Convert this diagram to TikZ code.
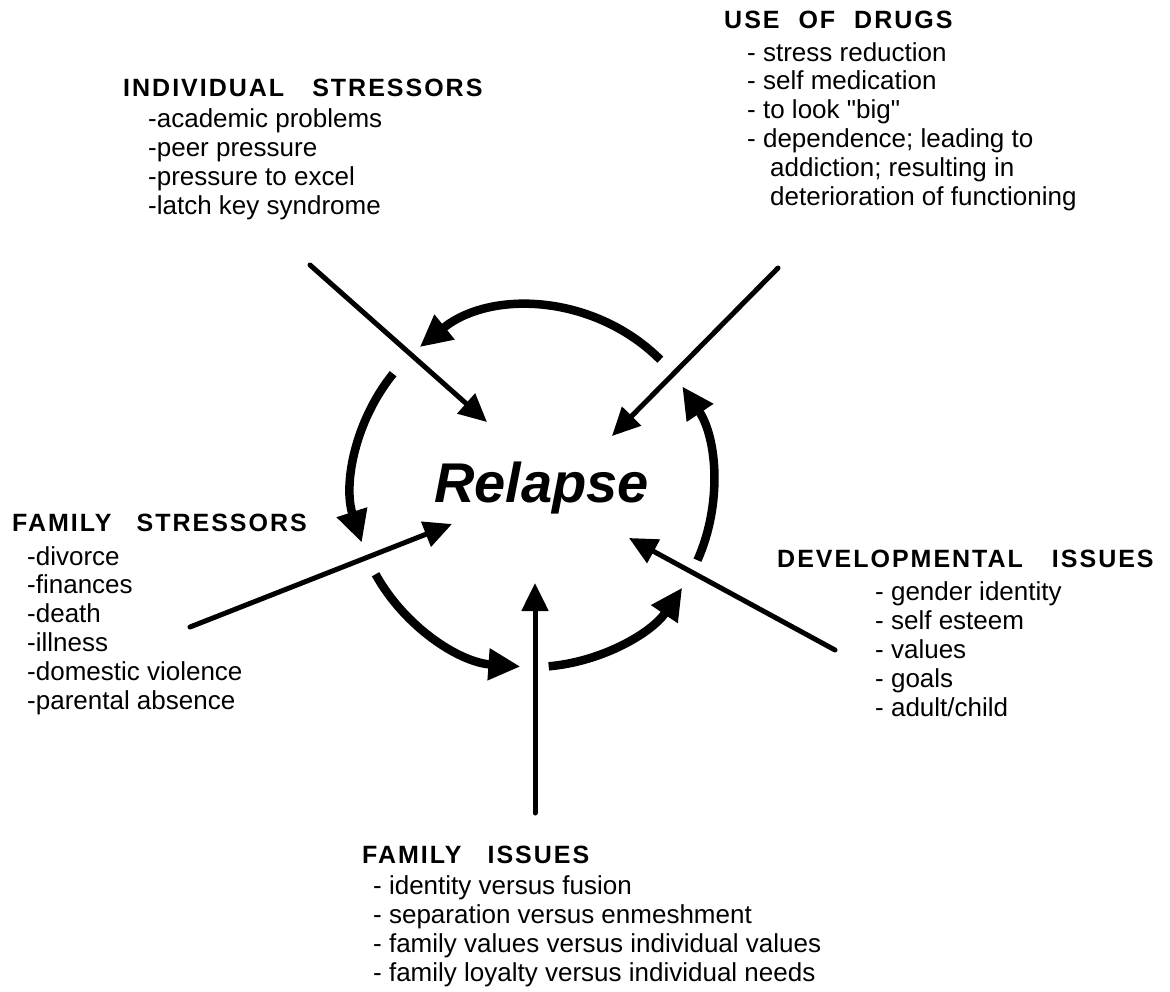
\documentclass[tikz,border=0pt]{standalone}
\usepackage{fontspec}
\setmainfont{Liberation Sans}
\newfontfamily\itemfont{Liberation Sans}
\newfontfamily\headfont[LetterSpace=8]{Liberation Sans}
\usetikzlibrary{arrows.meta}

\begin{document}
\begin{tikzpicture}
[every node/.style={inner sep=0pt},
 >={Triangle[length=28pt,width=26pt]},
 heading/.style={anchor=base west, font=\headfont\bfseries\fontsize{25pt}{28pt}\selectfont},
 items/.style={anchor=base west, align=left, font=\itemfont\fontsize{26pt}{28.8pt}\selectfont},
 spoke/.style={line width=5pt, line cap=round, ->},
 roundarrow/.style={line width=8.5pt, ->, >={Triangle[length=32pt,width=30pt]}}]
\useasboundingbox (0pt, 0pt) rectangle (1170pt, -991pt);
\node (relapse) [anchor=base west, font=\bfseries\itshape\fontsize{56pt}{60pt}\selectfont] at (434pt, -502pt) {Relapse};
% headings at their baselines, lists at the baseline of their last line
\node (indiv) [heading] at (123pt, -96pt) {INDIVIDUAL\hspace{28pt}STRESSORS};
\node (indivlist) [items] at (148pt, -214pt) {-academic problems\\-peer pressure\\-pressure to excel\\-latch key syndrome};
\node (drugs) [heading] at (724pt, -28pt) {USE\hspace{10pt} OF\hspace{10pt} DRUGS};
\node (drugslist) [items] at (747pt, -205pt) {- stress reduction\\- self medication\\- to look "big"\\- dependence; leading to\\\hspace{23pt}addiction; resulting in\\\hspace{23pt}deterioration of functioning};
\node (famstress) [heading] at (12pt, -531pt) {FAMILY\hspace{25pt}STRESSORS};
\node (famstresslist) [items] at (27pt, -709pt) {-divorce\\-finances\\-death\\-illness\\-domestic violence\\-parental absence};
\node (devel) [heading] at (777pt, -567pt) {DEVELOPMENTAL\hspace{29pt}ISSUES};
\node (devellist) [items] at (875pt, -716pt) {- gender identity\\- self esteem\\- values\\- goals\\- adult/child};
\node (famissues) [heading] at (362pt, -863pt) {FAMILY\hspace{26pt}ISSUES};
\node (famissueslist) [items] at (373pt, -981pt) {- identity versus fusion\\- separation versus enmeshment\\- family values versus individual values\\- family loyalty versus individual needs};
% spoke ends
\coordinate (c) at (533pt, -487pt);
\coordinate (indivtail) at (310pt, -265pt);
\coordinate (indivtip) at (487pt, -422pt);
\coordinate (drugstail) at (778pt, -268pt);
\coordinate (drugstip) at (612pt, -436pt);
\coordinate (famstresstail) at (190pt, -627pt);
\coordinate (famstresstip) at (452pt, -524pt);
\coordinate (famissuestail) at (535pt, -813pt);
\coordinate (famissuestip) at (535pt, -583pt);
\coordinate (develtail) at (835pt, -650pt);
\coordinate (develtip) at (629pt, -538pt);
\draw [spoke] (indivtail) to (indivtip);
\draw [spoke] (drugstail) to (drugstip);
\draw [spoke] (famstresstail) to (famstresstip);
\draw [spoke] (famissuestail) to (famissuestip);
\draw [spoke] (develtail) to (develtip);
% the cycle round Relapse
\draw [roundarrow] ([shift={(45:180pt)}]c) arc [start angle=45, end angle=129, radius=180pt];
\draw [roundarrow] ([shift={(141:180pt)}]c) arc [start angle=141, end angle=198, radius=180pt];
\draw [roundarrow] ([shift={(209:180pt)}]c) arc [start angle=209, end angle=266, radius=180pt];
\draw [roundarrow] ([shift={(275:180pt)}]c) arc [start angle=275, end angle=326, radius=180pt];
\draw [roundarrow] ([shift={(336:180pt)}]c) arc [start angle=336, end angle=394, radius=180pt];
\end{tikzpicture}
\end{document}
